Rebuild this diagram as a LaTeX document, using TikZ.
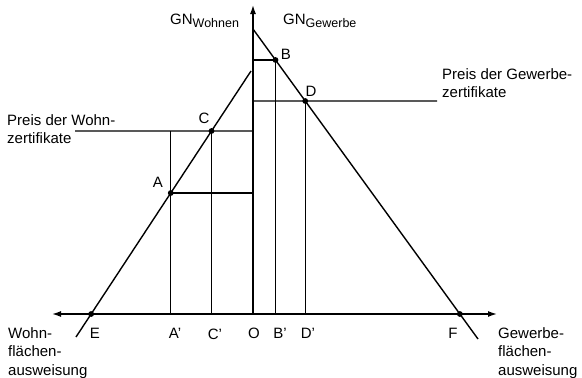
\documentclass[tikz,border=0pt]{standalone}
\usepackage{fontspec}
\setmainfont{Liberation Sans}
\usetikzlibrary{calc,arrows.meta}
\begin{document}
\begin{tikzpicture}[x=1pt,y=-1pt,
  >={Latex[length=9pt,width=6pt]},
  ln/.style={line width=1.4pt},
  dot/.style={circle,fill,inner sep=0pt,minimum size=5.8pt},
  lbl/.style={font=\fontsize{15}{17}\selectfont, inner sep=0pt},
  txt/.style={font=\fontsize{15}{18.5}\selectfont, align=left, inner sep=0pt, anchor=base west}
]
\useasboundingbox (0,0) rectangle (582,378);
% axes
\coordinate (O) at (253,314);
\coordinate (Otop) at (253,5);
\coordinate (Xl) at (52,314);
\coordinate (Xr) at (497,314);
% GN lines
\coordinate (Ltop) at (251,71);
\coordinate (Lbot) at (76,337);
\coordinate (Rtop) at (253,29);
\coordinate (Rbot) at (478,339);
% points on lines
\coordinate (E) at ($(Ltop)!{243/266}!(Lbot)$);
\coordinate (C) at ($(Ltop)!{60/266}!(Lbot)$);
\coordinate (A) at ($(Ltop)!{122/266}!(Lbot)$);
\coordinate (F) at ($(Rtop)!{285/310}!(Rbot)$);
\coordinate (B) at ($(Rtop)!{31/310}!(Rbot)$);
\coordinate (D) at ($(Rtop)!{72/310}!(Rbot)$);
\coordinate (Cstart) at (75,131);
\coordinate (Dend) at (437,101);

% axes
\draw[ln,<->] (Xl) -- (Xr);
\draw[ln,->] (O) -- (Otop);
% GN curves
\draw[ln] (Lbot) -- (Ltop);
\draw[ln] (Rtop) -- (Rbot);
% horizontal price lines
\draw[ln] (Cstart) -- (C -| O);
\draw[ln] (A) -- (A -| O);
\draw[ln] (B -| O) -- (B);
\draw[ln] (D -| O) -- (Dend);
% vertical lines
\draw[ln] (A |- C) -- (A |- O);
\draw[ln] (C) -- (C |- O);
\draw[ln] (B) -- (B |- O);
\draw[ln] (D) -- (D |- O);
% dots
\foreach \p in {A,B,C,D,E,F} \node[dot] (d\p) at (\p) {};
% point labels
\node[lbl] (lA) at (158,182) {A};
\node[lbl] (lB) at (286,54) {B};
\node[lbl] (lC) at (204,118) {C};
\node[lbl] (lD) at (311,91) {D};
\node[lbl] (lE) at (95,333) {E};
\node[lbl] (lF) at (453,333) {F};
\node[lbl] (lAp) at (175,333) {A'};
\node[lbl] (lCp) at (215,334) {C'};
\node[lbl] (lO) at (254,333) {O};
\node[lbl] (lBp) at (280,333) {B'};
\node[lbl] (lDp) at (308,333) {D'};
% axis titles
\node[txt] (gnw) at (170,24) {GN\raisebox{-3.5pt}{\fontsize{12.5}{13}\selectfont Wohnen}};
\node[txt] (gng) at (283,24) {GN\raisebox{-3.5pt}{\fontsize{12.5}{13}\selectfont Gewerbe}};
\node[txt] (pw) at (7,143.5) {Preis der Wohn-\\zertifikate};
\node[txt] (pg) at (442,97.5) {Preis der Gewerbe-\\zertifikate};
\node[txt] (wf) at (8,375) {Wohn-\\flächen-\\ausweisung};
\node[txt] (gf) at (498,375) {Gewerbe-\\flächen-\\ausweisung};
\end{tikzpicture}
\end{document}
